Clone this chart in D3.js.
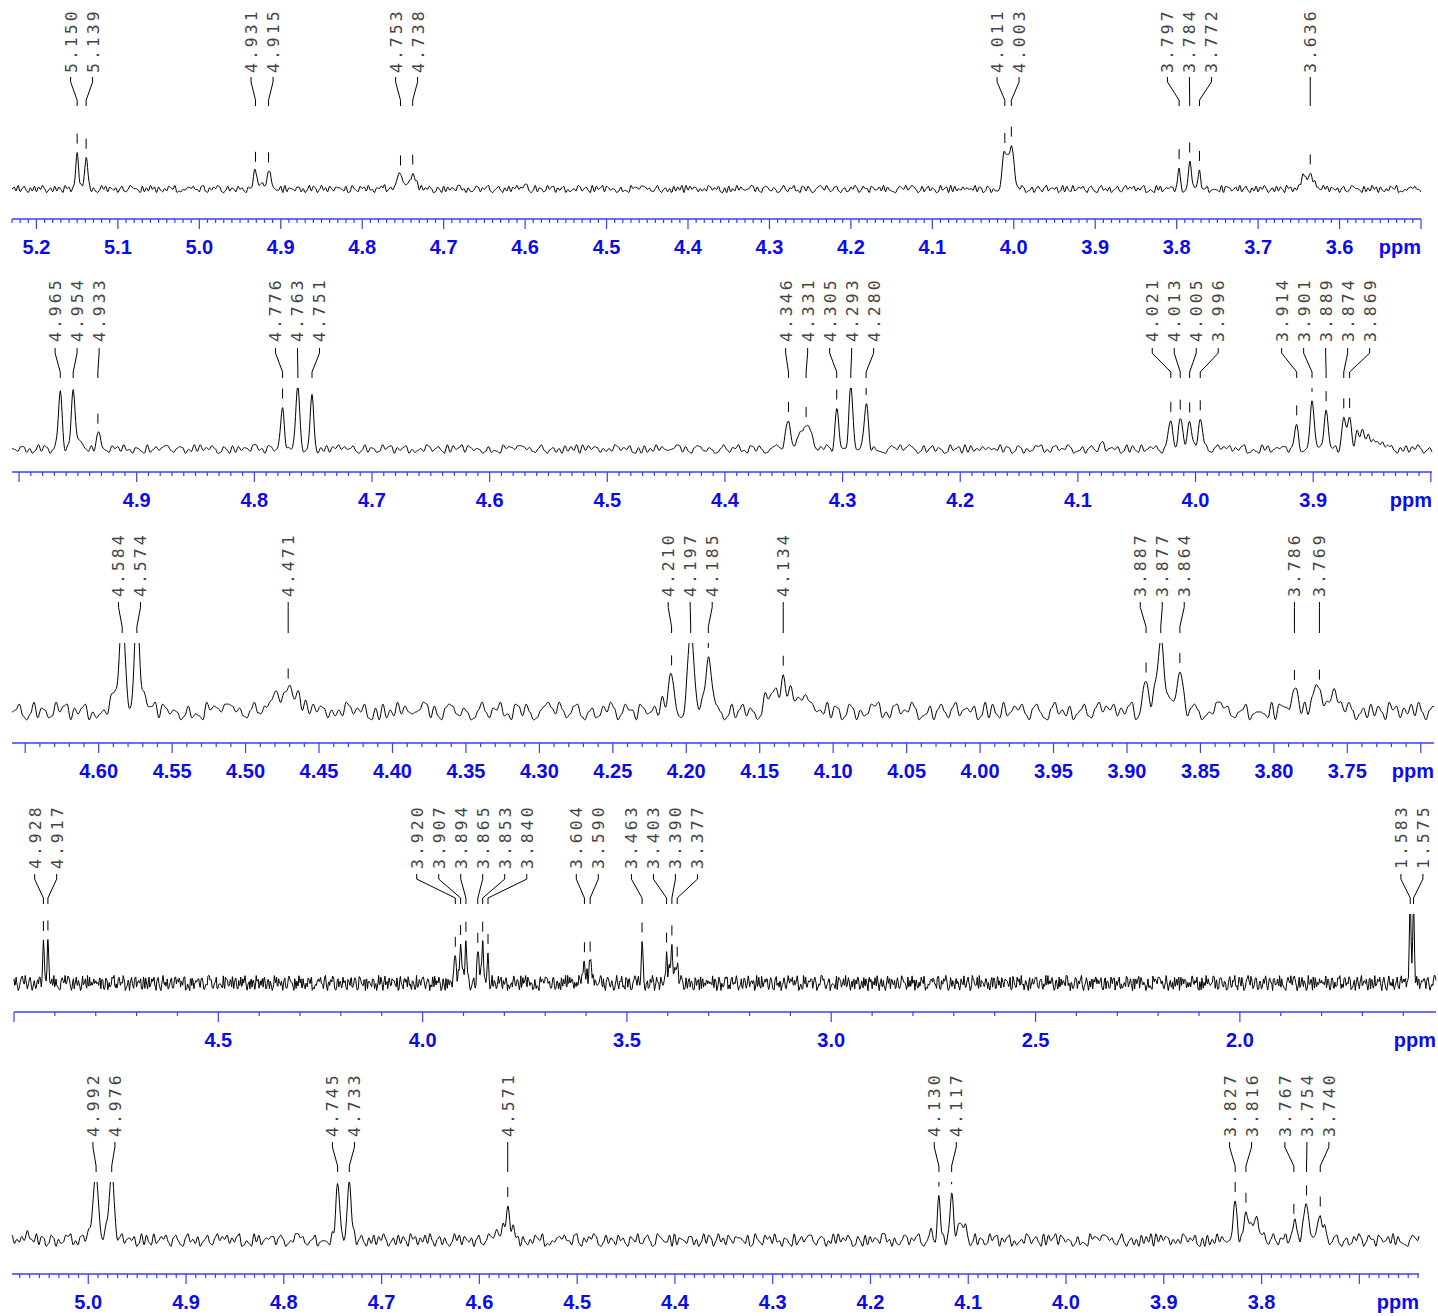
<!DOCTYPE html>
<html>
<head>
<meta charset="utf-8">
<script src="https://cdn.jsdelivr.net/npm/d3@7"></script>
<style>
  body { margin: 0; background: #fff; }
</style>
</head>
<body>
<script>
// ---- data: ppm windows of the five spectra ----
const p1Domain = [5.23, 3.50];
const p2Domain = [5.006, 3.799];
const p3Domain = [4.659, 3.691];
const p4Domain = [5.0, 1.52];
const p5Domain = [5.078, 3.639];

// labelled peaks (ppm), heights (% of plot height), half widths (ppm)
const p1Peaks   = [5.150, 5.139, 4.931, 4.915, 4.753, 4.738, 4.011, 4.003, 3.797, 3.784, 3.772, 3.636];
const p1Heights = [46, 46, 25, 28, 21, 22, 49, 55, 25, 37, 29, 19];
const p1Widths  = [0.0022, 0.0022, 0.0028, 0.0026, 0.004, 0.004, 0.0038, 0.0038, 0.0018, 0.002, 0.0018, 0.003];

const p2Peaks   = [4.965, 4.954, 4.933, 4.776, 4.763, 4.751, 4.346, 4.331, 4.305, 4.293, 4.280,
                   4.021, 4.013, 4.005, 3.996, 3.914, 3.901, 3.889, 3.874, 3.869];
const p2Heights = [96, 99, 31, 64, 98, 84, 45, 42, 66, 98, 74, 47, 47, 46, 51, 39, 72, 69, 52, 54];
const p2Widths  = [0.0018, 0.0018, 0.0018, 0.0018, 0.002, 0.0018, 0.0025, 0.0035, 0.0018, 0.002, 0.002,
                   0.0022, 0.0022, 0.0022, 0.0022, 0.0018, 0.002, 0.002, 0.002, 0.002];

const p3Peaks   = [4.584, 4.574, 4.471, 4.210, 4.197, 4.185, 4.134, 3.887, 3.877, 3.864, 3.786, 3.769];
const p3Heights = [140, 140, 40, 54, 110, 78, 36, 50, 98, 50, 33, 37];
const p3Widths  = [0.0022, 0.0022, 0.0022, 0.0022, 0.0025, 0.0022, 0.003, 0.0025, 0.003, 0.0025, 0.0025, 0.003];

const p4Peaks   = [4.928, 4.917, 3.920, 3.907, 3.894, 3.865, 3.853, 3.840, 3.604, 3.590,
                   3.463, 3.403, 3.390, 3.377, 1.583, 1.575];
const p4Heights = [55, 55, 43, 64, 59, 51, 51, 35, 28, 39, 55, 36, 64, 25, 115, 115];
const p4Widths  = [0.0025, 0.0025, 0.0025, 0.0025, 0.0025, 0.0025, 0.0025, 0.0025, 0.0025, 0.0025,
                   0.0025, 0.0025, 0.0025, 0.0025, 0.0025, 0.0025];

const p5Peaks   = [4.992, 4.976, 4.745, 4.733, 4.571, 4.130, 4.117, 3.827, 3.816, 3.767, 3.754, 3.740];
const p5Heights = [118, 112, 89, 96, 56, 74, 76, 57, 59, 34, 69, 39];
const p5Widths  = [0.003, 0.003, 0.0025, 0.0025, 0.0025, 0.0019, 0.0019, 0.0022, 0.0022, 0.0025, 0.003, 0.0025];

// unlabelled shoulders / small signals
const p1ExtraPpm     = [3.645, 3.641, 3.631, 3.626, 4.017, 4.776, 4.600, 4.923];
const p1ExtraHeights = [15, 12, 9, 6, -10, 8, 6, 5];
const p1ExtraWidths  = [0.003, 0.002, 0.002, 0.002, 0.002, 0.002, 0.002, 0.003];

const p2ExtraPpm     = [4.949, 4.337, 4.326, 3.862, 3.858, 3.853, 3.849, 3.844, 3.838, 4.786, 4.080];
const p2ExtraHeights = [12, 14, 12, 30, 26, 22, 16, 12, 9, 8, 7];
const p2ExtraWidths  = [0.003, 0.003, 0.003, 0.0018, 0.0018, 0.0018, 0.0018, 0.002, 0.002, 0.002, 0.002];

const p3ExtraPpm     = [4.589, 4.569, 4.481, 4.477, 4.466, 4.462, 4.488, 4.145, 4.140, 4.128, 4.122, 4.117,
                        4.215, 3.774, 3.761, 3.757, 3.871];
const p3ExtraHeights = [18, 14, 30, 26, 20, 14, 12, 14, 22, 24, 18, 16, 12, 14, 22, 24, 14];
const p3ExtraWidths  = [0.003, 0.003, 0.002, 0.002, 0.002, 0.002, 0.002, 0.003, 0.0035, 0.003, 0.0025, 0.0025,
                        0.002, 0.002, 0.002, 0.002, 0.002];

const p4ExtraPpm     = [3.598, 3.586, 3.609, 3.396, 3.383, 3.913, 3.900, 3.859];
const p4ExtraHeights = [18, 12, 10, 24, 14, 14, 12, 14];
const p4ExtraWidths  = [0.0025, 0.0025, 0.0025, 0.0025, 0.0025, 0.0025, 0.0025, 0.0025];

const p5ExtraPpm     = [4.981, 4.999, 4.577, 4.582, 4.565, 4.108, 4.102, 4.138, 3.805, 3.797, 3.811, 3.735, 5.062];
const p5ExtraHeights = [26, 18, 22, 18, 14, 30, 18, 12, 45, 16, 20, 12, 14];
const p5ExtraWidths  = [0.0015, 0.002, 0.002, 0.002, 0.002, 0.003, 0.002, 0.002, 0.0025, 0.002, 0.002, 0.002, 0.0015];

// baseline noise trace (digits 0-9, centred on 4.5), one value every 0.0025 ppm
const noiseDigits = [
  "4729158306281749503618274095716382940571620394817536058214975530816294",
  "7073152864902143675844189206375971038264184620753922684019753380916542",
  "7715039286049361852766428019531857293406520914736883157604292936485017",
  "4081736529935062148716479203583062817594745820391651294780636804135297",
  "2573091846918635402713209576488746215930461508273909384761525297364810",
  "6081529374345981720687326401594165923087284015796395137820461274960385",
  "5086347291732105864936974028158264019357091825374645391760286052387914",
  "1783549602370584169256470291831924758306841069352703582169475826379014",
  "2093814657716850243996721458034431908762"
].join("");
const noiseAmp = [5, 7, 13, 11, 11];
const noiseOffset = [0, 137, 251, 389, 463];
const noiseStep = 0.0025;

// ---- layout ----
const layout = [
  { x0: 12, x1: 1421, textY: 73,   cTop: 77,   cBot: 106,  clipY: 116,  baseY: 189,  axisY: 219,  major: 0.1,  minor: 0.01, fmt: ".1f" },
  { x0: 12, x1: 1432, textY: 342,  cTop: 348,  cBot: 378,  clipY: 388,  baseY: 449,  axisY: 472,  major: 0.1,  minor: 0.01, fmt: ".1f" },
  { x0: 12, x1: 1434, textY: 597,  cTop: 602,  cBot: 633,  clipY: 643,  baseY: 711,  axisY: 743,  major: 0.05, minor: 0.01, fmt: ".2f" },
  { x0: 14, x1: 1436, textY: 869,  cTop: 874,  cBot: 904,  clipY: 914,  baseY: 983,  axisY: 1012, major: 0.5,  minor: 0.1,  fmt: ".1f" },
  { x0: 12, x1: 1419, textY: 1137, cTop: 1142, cBot: 1172, clipY: 1182, baseY: 1240, axisY: 1274, major: 0.1,  minor: 0.01, fmt: ".1f" }
];

const domains = [p1Domain, p2Domain, p3Domain, p4Domain, p5Domain];
const peakLists = [p1Peaks, p2Peaks, p3Peaks, p4Peaks, p5Peaks];
const heightLists = [p1Heights, p2Heights, p3Heights, p4Heights, p5Heights];
const widthLists = [p1Widths, p2Widths, p3Widths, p4Widths, p5Widths];
const extraPpmLists = [p1ExtraPpm, p2ExtraPpm, p3ExtraPpm, p4ExtraPpm, p5ExtraPpm];
const extraHeightLists = [p1ExtraHeights, p2ExtraHeights, p3ExtraHeights, p4ExtraHeights, p5ExtraHeights];
const extraWidthLists = [p1ExtraWidths, p2ExtraWidths, p3ExtraWidths, p4ExtraWidths, p5ExtraWidths];

const axisColor = "#3c3cff";
const labelColor = "#0a0af0";

const svg = d3.select("body").append("svg")
    .attr("width", 1438)
    .attr("height", 1316);
const defs = svg.append("defs");

function gauss(ppm, c, h, w) {
  const d = (ppm - c) / w;
  return h * Math.exp(-Math.LN2 * d * d);
}

function nz(k) {
  const d = +noiseDigits[((k % noiseDigits.length) + noiseDigits.length) % noiseDigits.length];
  return (d - 4.5) / 4.5;
}

// spread crowded labels apart, keeping each group centred on its peaks
function spread(xs, gap) {
  let groups = xs.map((x, i) => ({ idx: [i], xs: [x] }));
  const center = g => d3.mean(g.xs);
  let merged = true;
  while (merged) {
    merged = false;
    for (let i = 0; i < groups.length - 1; i++) {
      const a = groups[i], b = groups[i + 1];
      const aRight = center(a) + (a.xs.length - 1) * gap / 2;
      const bLeft = center(b) - (b.xs.length - 1) * gap / 2;
      if (bLeft - aRight < gap) {
        groups.splice(i, 2, { idx: a.idx.concat(b.idx), xs: a.xs.concat(b.xs) });
        merged = true;
        break;
      }
    }
  }
  const out = [];
  groups.forEach(g => {
    const c = center(g);
    g.idx.forEach((k, j) => { out[k] = c + (j - (g.idx.length - 1) / 2) * gap; });
  });
  return out;
}

layout.forEach((p, pi) => {
  const dom = domains[pi];
  const x = d3.scaleLinear().domain(dom).range([p.x0, p.x1]);
  const y = d3.scaleLinear().domain([0, 100]).range([p.baseY, p.clipY]);

  const peaks = peakLists[pi];
  const comps = peaks.map((c, i) => ({ c, h: heightLists[pi][i], w: widthLists[pi][i] }))
    .concat(extraPpmLists[pi].map((c, i) => ({ c, h: extraHeightLists[pi][i], w: extraWidthLists[pi][i] })));

  const noiseAt = ppm => {
    const t = (dom[0] - ppm) / noiseStep;
    const i = Math.floor(t), f = t - i;
    const s = (1 - Math.cos(Math.PI * f)) / 2;
    const k = i + noiseOffset[pi];
    return (nz(k) * (1 - s) + nz(k + 1) * s) * noiseAmp[pi];
  };
  const value = ppm => d3.sum(comps, k => gauss(ppm, k.c, k.h, k.w)) + noiseAt(ppm);

  const grid = d3.range(p.x0, p.x1, 0.7).map(px => x.invert(px))
    .concat([dom[1]], comps.map(k => k.c))
    .sort((a, b) => b - a);
  const pts = grid.map(ppm => ({ ppm, v: value(ppm) }));

  defs.append("clipPath").attr("id", "clip" + pi)
    .append("rect")
      .attr("x", p.x0 - 2)
      .attr("y", p.clipY)
      .attr("width", p.x1 - p.x0 + 4)
      .attr("height", p.axisY - p.clipY - 3);

  const g = svg.append("g");

  // spectrum
  g.append("path")
      .datum(pts)
      .attr("d", d3.line().x(d => x(d.ppm)).y(d => y(d.v)))
      .attr("fill", "none")
      .attr("stroke", "#000")
      .attr("stroke-width", 1)
      .attr("clip-path", `url(#clip${pi})`);

  // peak labels, connectors and markers
  const lx = spread(peaks.map(c => x(c)), 22);
  const L = p.cBot - p.cTop;
  peaks.forEach((c, i) => {
    const px = x(c);
    g.append("path")
        .attr("d", d3.line()([[lx[i], p.cTop], [lx[i], p.cTop + 0.17 * L], [px, p.cBot - 0.2 * L], [px, p.cBot]]))
        .attr("fill", "none")
        .attr("stroke", "#000")
        .attr("stroke-width", 1);
    g.append("text")
        .attr("transform", `translate(${lx[i]},${p.textY}) rotate(-90)`)
        .attr("dy", "0.36em")
        .attr("text-anchor", "start")
        .style("font-family", "'DejaVu Sans Mono', monospace")
        .style("font-size", "16.5px")
        .style("letter-spacing", "3px")
        .style("fill", "#444")
        .text(d3.format(".3f")(c));
    const v = value(c);
    g.append("line")
        .attr("x1", px).attr("x2", px)
        .attr("y1", y(v) - 19).attr("y2", y(v) - 9)
        .attr("stroke", "#000")
        .attr("stroke-width", 1)
        .attr("clip-path", `url(#clip${pi})`);
  });

  // ppm axis
  g.append("line")
      .attr("x1", p.x0).attr("x2", p.x1)
      .attr("y1", p.axisY).attr("y2", p.axisY)
      .attr("stroke", axisColor)
      .attr("stroke-width", 1.6);

  const lo = Math.min(dom[0], dom[1]), hi = Math.max(dom[0], dom[1]);
  const ratio = Math.round(p.major / p.minor);
  d3.range(Math.ceil(lo / p.minor - 1e-6), Math.floor(hi / p.minor + 1e-6) + 1).forEach(k => {
    const v = +(k * p.minor).toFixed(4);
    const isMajor = k % ratio === 0;
    const tx = x(v);
    g.append("line")
        .attr("x1", tx).attr("x2", tx)
        .attr("y1", p.axisY).attr("y2", p.axisY + (isMajor ? 10 : 4))
        .attr("stroke", axisColor)
        .attr("stroke-width", 1.2);
    if (isMajor && tx - p.x0 >= 18 && p.x1 - tx >= 70) {
      g.append("text")
          .attr("x", tx)
          .attr("y", p.axisY + 34.5)
          .attr("text-anchor", "middle")
          .style("font-family", "'Liberation Sans', Arial, sans-serif")
          .style("font-weight", "bold")
          .style("font-size", "20px")
          .style("fill", labelColor)
          .text(d3.format(p.fmt)(v));
    }
  });

  g.append("text")
      .attr("x", p.x1)
      .attr("y", p.axisY + 35)
      .attr("text-anchor", "end")
      .style("font-family", "'Liberation Sans', Arial, sans-serif")
      .style("font-weight", "bold")
      .style("font-size", "20px")
      .style("fill", labelColor)
      .text("ppm");
});
</script>
</body>
</html>
